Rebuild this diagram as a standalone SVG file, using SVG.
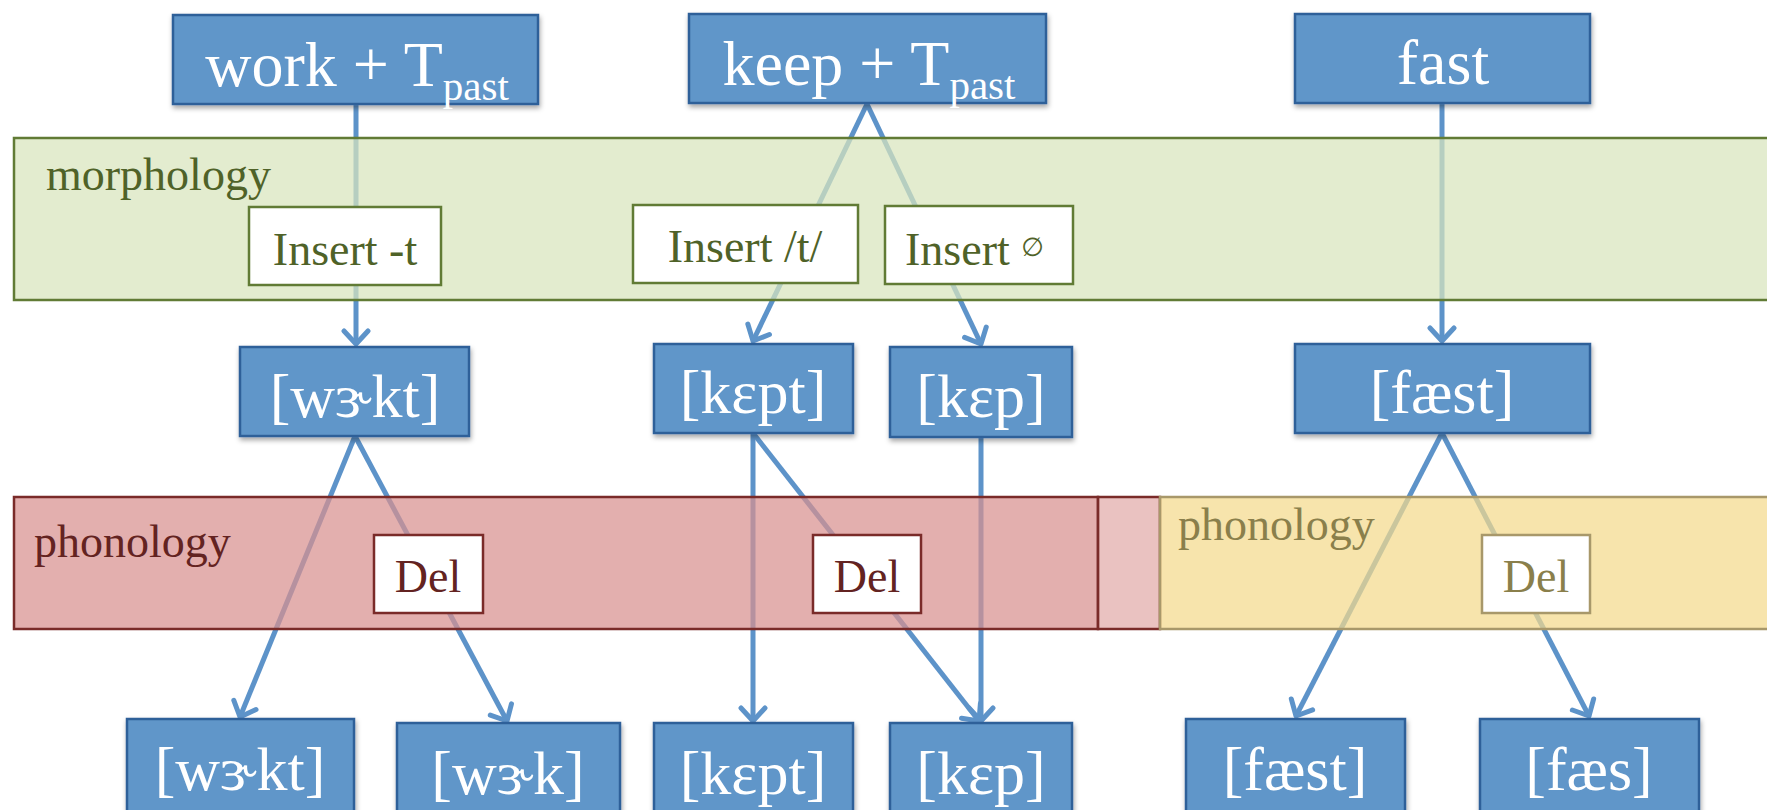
<svg xmlns="http://www.w3.org/2000/svg" width="1767" height="810" viewBox="0 0 1767 810">
<style>
.node rect{fill:#6196c9;stroke:#2f6099;stroke-width:2.5;filter:url(#sh)}
.node text{font-family:"Liberation Serif","DejaVu Serif",serif;font-size:62px;fill:#ffffff;text-anchor:middle}
.top text{font-size:64px}
.sub{font-size:41px}
.conn{stroke:#5d93c9;stroke-width:5;fill:none;marker-end:url(#arr)}
.band-m{fill:#d8e5bd;fill-opacity:0.72;stroke:#617b35;stroke-width:2.5}
.band-r{fill:#d8908f;fill-opacity:0.72;stroke:#7a2b29;stroke-width:2.5}
.band-p{fill:#dea1a0;fill-opacity:0.65;stroke:#7a2b29;stroke-width:2.5}
.band-y{fill:#f4da8c;fill-opacity:0.72;stroke:#a8986a;stroke-width:2.5}
.lbl{font-family:"Liberation Serif","DejaVu Serif",serif;font-size:46px}
.lm{fill:#4f6228}
.lr{fill:#632321}
.ly{fill:#8a7f4b}
.box-m{fill:#ffffff;stroke:#617b35;stroke-width:2.5}
.box-r{fill:#ffffff;stroke:#7a2b29;stroke-width:2.5}
.box-y{fill:#ffffff;stroke:#a8986a;stroke-width:2.5}
.mid{text-anchor:middle}
</style>
<defs>
<filter id="sh" x="-10%" y="-10%" width="130%" height="140%">
<feDropShadow dx="1" dy="3" stdDeviation="2.5" flood-color="#000000" flood-opacity="0.35"/>
</filter>
<marker id="arr" viewBox="-16 -16 32 32" refX="0" refY="0" markerWidth="32" markerHeight="32" markerUnits="userSpaceOnUse" orient="auto">
<path d="M-13,-12 L0,0 L-13,12" fill="none" stroke="#5d93c9" stroke-width="5" stroke-linecap="round" stroke-linejoin="round"/>
</marker>
</defs>
<rect x="0" y="0" width="1767" height="810" fill="#ffffff"/>

<g id="connectors">
<line class="conn" x1="356" y1="104" x2="356" y2="344"/>
<line class="conn" x1="867" y1="104" x2="753" y2="341"/>
<line class="conn" x1="867" y1="104" x2="981" y2="344"/>
<line class="conn" x1="1442" y1="104" x2="1442" y2="341"/>
<line class="conn" x1="355" y1="436" x2="240" y2="717"/>
<line class="conn" x1="355" y1="436" x2="507" y2="721"/>
<line class="conn" x1="753" y1="433" x2="753" y2="721"/>
<line class="conn" x1="753" y1="433" x2="979" y2="721"/>
<line class="conn" x1="981" y1="437" x2="981" y2="721"/>
<line class="conn" x1="1442" y1="433" x2="1296" y2="716"/>
<line class="conn" x1="1442" y1="433" x2="1589" y2="716"/>
</g>

<g id="band-morphology">
<rect class="band-m" x="14" y="138" width="1770" height="162"/>
<text class="lbl lm" x="46" y="190">morphology</text>
</g>
<g id="band-phonology-red">
<rect class="band-r" x="14" y="497" width="1084" height="132"/>
<rect class="band-p" x="1098" y="497" width="62" height="132"/>
<text class="lbl lr" x="34" y="557">phonology</text>
</g>
<g id="band-phonology-yellow">
<rect class="band-y" x="1160" y="497" width="620" height="132"/>
<text class="lbl ly" x="1178" y="540">phonology</text>
</g>

<g id="rule-insert-t">
<rect class="box-m" x="249" y="207" width="192" height="78"/>
<text class="lbl lm mid" x="345" y="265">Insert -t</text>
</g>
<g id="rule-insert-slash-t">
<rect class="box-m" x="633" y="205" width="225" height="78"/>
<text class="lbl lm mid" x="745" y="262">Insert /t/</text>
</g>
<g id="rule-insert-null">
<rect class="box-m" x="885" y="206" width="188" height="78"/>
<text class="lbl lm" x="905" y="265">Insert <tspan font-size="26" dy="-9" font-family="DejaVu Sans, sans-serif">∅</tspan></text>
</g>
<g id="rule-del-1">
<rect class="box-r" x="374" y="535" width="109" height="78"/>
<text class="lbl lr mid" x="428" y="592">Del</text>
</g>
<g id="rule-del-2">
<rect class="box-r" x="813" y="535" width="108" height="78"/>
<text class="lbl lr mid" x="867" y="592">Del</text>
</g>
<g id="rule-del-3">
<rect class="box-y" x="1482" y="535" width="108" height="78"/>
<text class="lbl ly mid" x="1536" y="592">Del</text>
</g>

<g id="node-work" class="node top">
<rect x="173" y="15" width="365" height="89"/>
<text x="357" y="86">work + T<tspan class="sub" dy="14">past</tspan></text>
</g>
<g id="node-keep" class="node top">
<rect x="689" y="14" width="357" height="89"/>
<text x="869" y="85">keep + T<tspan class="sub" dy="14">past</tspan></text>
</g>
<g id="node-fast" class="node top">
<rect x="1295" y="14" width="295" height="89"/>
<text x="1443" y="84">fast</text>
</g>

<g id="node-werkt-mid" class="node">
<rect x="240" y="347" width="229" height="89"/>
<text x="355" y="417">[wɝkt]</text>
</g>
<g id="node-kept-mid" class="node">
<rect x="654" y="344" width="199" height="89"/>
<text x="753" y="413">[kɛpt]</text>
</g>
<g id="node-kep-mid" class="node">
<rect x="890" y="347" width="182" height="90"/>
<text x="981" y="417">[kɛp]</text>
</g>
<g id="node-faest-mid" class="node">
<rect x="1295" y="344" width="295" height="89"/>
<text x="1442" y="413">[fæst]</text>
</g>

<g id="node-werkt-out" class="node">
<rect x="127" y="719" width="227" height="100"/>
<text x="240" y="790">[wɝkt]</text>
</g>
<g id="node-werk-out" class="node">
<rect x="397" y="723" width="223" height="100"/>
<text x="508" y="794">[wɝk]</text>
</g>
<g id="node-kept-out" class="node">
<rect x="654" y="723" width="199" height="100"/>
<text x="753" y="794">[kɛpt]</text>
</g>
<g id="node-kep-out" class="node">
<rect x="890" y="723" width="182" height="100"/>
<text x="981" y="794">[kɛp]</text>
</g>
<g id="node-faest-out" class="node">
<rect x="1186" y="719" width="219" height="100"/>
<text x="1295" y="790">[fæst]</text>
</g>
<g id="node-faes-out" class="node">
<rect x="1480" y="719" width="219" height="100"/>
<text x="1589" y="790">[fæs]</text>
</g>
</svg>
